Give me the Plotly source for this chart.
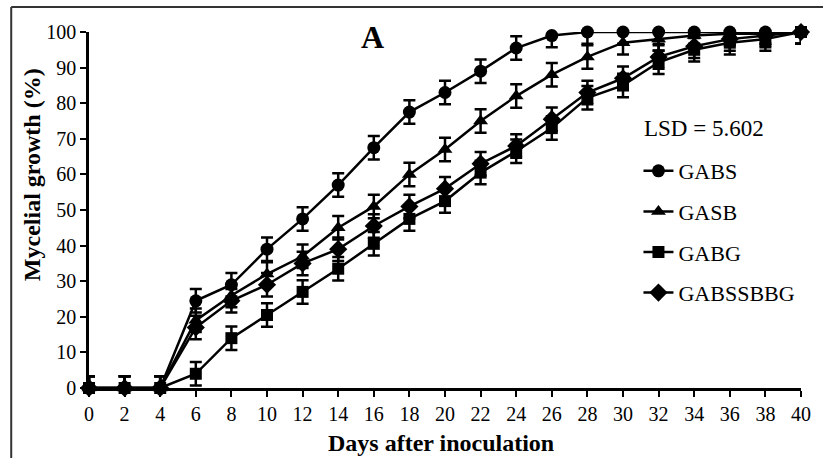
import plotly.graph_objects as go

days = [0, 2, 4, 6, 8, 10, 12, 14, 16, 18, 20, 22, 24, 26, 28, 30, 32, 34, 36, 38, 40]
gabs = [0, 0, 0, 24.5, 29, 39, 47.5, 57, 67.5, 77.5, 83, 89, 95.5, 99, 100, 100, 100, 100, 100, 100, 100]
gasb = [0, 0, 0, 19, 26, 32, 37, 45, 51, 60, 67, 75, 82, 88, 93, 97, 98, 99, 99.5, 99.5, 100]
gabg = [0, 0, 0, 4, 14, 20.5, 27, 33.5, 40.5, 47.5, 52.5, 60.5, 66.5, 73, 81.5, 85, 91.5, 95, 97, 98, 100]
gabssbbg = [0, 0, 0, 17, 24.5, 29, 35, 39, 45.5, 51, 56, 63, 68, 75.5, 83, 87, 93, 96, 98, 99, 100]
err = [3.3] * len(days)

series = [
    ("GABS", gabs, "circle", 13),
    ("GASB", gasb, "triangle-up", 13),
    ("GABG", gabg, "square", 12),
    ("GABSSBBG", gabssbbg, "diamond", 14),
]

FONT = "Liberation Serif, Times New Roman, serif"

fig = go.Figure()
for i, (name, vals, sym, sz) in enumerate(series):
    fig.add_trace(go.Scatter(
        x=days, y=vals, name=name, mode="lines+markers",
        line=dict(color="black", width=2.5),
        marker=dict(symbol=sym, size=sz, color="black"),
        error_y=dict(type="data", array=err, visible=True, color="black", thickness=2.5, width=6),
        cliponaxis=False,
        legendgroup=str(i),
    ))

W, H = 823, 458
L, R, T, B = 89, 20, 32, 70
pw = W - L - R
ph = H - T - B

def px(xp):
    return (xp - L) / pw

def py(yp):
    return (H - B - yp) / ph

fig.update_layout(
    width=W, height=H,
    margin=dict(l=L, r=R, t=T, b=B),
    paper_bgcolor="white", plot_bgcolor="white",
    font=dict(family=FONT, color="black", size=20),
    showlegend=True,
    legend=dict(
        x=px(640), y=py(150), xanchor="left", yanchor="top",
        font=dict(family=FONT, size=22, color="black"),
        bgcolor="rgba(0,0,0,0)",
        tracegroupgap=9,
    ),
    xaxis=dict(
        range=[0, 40], tickmode="array", tickvals=days,
        ticktext=[str(d) for d in days],
        showline=True, linecolor="black", linewidth=2.5,
        ticks="outside", ticklen=6, tickwidth=2, tickcolor="black",
        showgrid=False, zeroline=False,
        tickfont=dict(family=FONT, size=20),
    ),
    yaxis=dict(
        range=[0, 100], tickmode="array", tickvals=list(range(0, 101, 10)),
        showline=True, linecolor="black", linewidth=2.5,
        ticks="outside", ticklen=6, tickwidth=2, tickcolor="black",
        showgrid=False, zeroline=False,
        tickfont=dict(family=FONT, size=20),
    ),
    annotations=[
        dict(text="<b>Days after inoculation</b>", x=px(442), y=py(443), xref="paper", yref="paper",
             xanchor="center", yanchor="middle",
             showarrow=False, font=dict(family=FONT, size=24, color="black")),
        dict(text="<b>Mycelial growth (%)</b>", x=px(32), y=py(175), xref="paper", yref="paper",
             xanchor="center", yanchor="middle", textangle=-90,
             showarrow=False, font=dict(family=FONT, size=24, color="black")),
        dict(text="<b>A</b>", x=px(373), y=py(37), xref="paper", yref="paper",
             xanchor="center", yanchor="middle",
             showarrow=False, font=dict(family=FONT, size=32, color="black")),
        dict(text="LSD = 5.602", x=px(706), y=py(128), xref="paper", yref="paper",
             xanchor="center", yanchor="middle",
             showarrow=False, font=dict(family=FONT, size=23, color="black")),
    ],
    shapes=[
        dict(type="line", xref="paper", yref="paper", x0=px(11), x1=px(11), y0=py(7), y1=py(470),
             line=dict(color="#333", width=2)),
        dict(type="line", xref="paper", yref="paper", x0=px(11), x1=px(830), y0=py(7), y1=py(7),
             line=dict(color="#333", width=2)),
    ],
)

fig.write_html("out.html")
